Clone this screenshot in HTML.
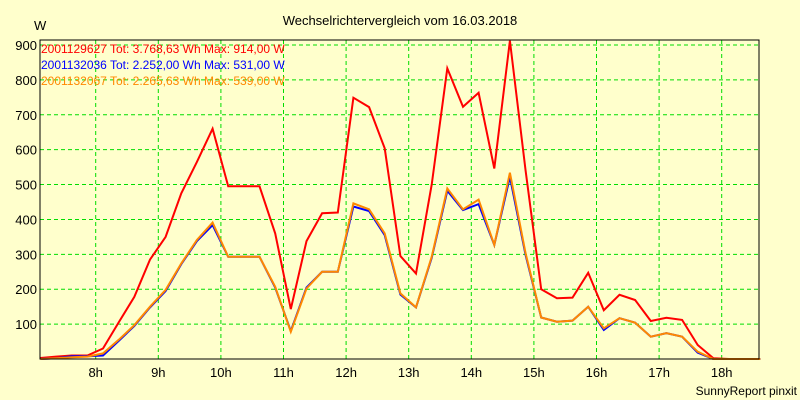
<!DOCTYPE html>
<html><head><meta charset="utf-8"><style>
body{margin:0;background:#ffffcc;}
svg{display:block;font-family:"Liberation Sans",sans-serif;}
</style></head><body>
<svg width="800" height="400">
<rect x="0" y="0" width="800" height="400" fill="#ffffcc"/>
<text x="400" y="25" font-size="13" text-anchor="middle" fill="#000">Wechselrichtervergleich vom 16.03.2018</text>
<text x="34" y="30" font-size="13" fill="#000">W</text>
<text x="797" y="395" font-size="12" text-anchor="end" fill="#000">SunnyReport pinxit</text>
<g id="grid"></g>
<g id="series"></g>
<rect x="40" y="40" width="719" height="319" fill="none" stroke="#000" stroke-width="1"/>
<g id="axes"></g>
<g id="legend" font-size="12">
<text x="41" y="53" fill="#ff0000">2001129627 Tot: 3.768,63 Wh Max: 914,00 W</text>
<text x="41" y="69" fill="#0000ff">2001132036 Tot: 2.252,00 Wh Max: 531,00 W</text>
<text x="41" y="85" fill="#ff8800">2001132067 Tot: 2.265,63 Wh Max: 539,00 W</text>
</g>
</svg>
<script>
const yTicks=[100,200,300,400,500,600,700,800,900];
const xTickHours=[8,9,10,11,12,13,14,15,16,17,18];
const xTickLabels=["8h","9h","10h","11h","12h","13h","14h","15h","16h","17h","18h"];
const startHour=7+7/60;
const stepHours=0.25;
const red=[3,7,10,10,30,105,178,285,350,475,565,660,495,495,495,360,143,338,418,420,749,722,604,295,245,500,833,723,763,546,912,540,200,174,176,247,140,184,169,109,118,112,40,2,0,0,0];
const blue=[0,2,8,8,10,52,95,148,195,272,338,384,293,293,293,205,80,205,250,250,437,424,355,185,148,290,482,427,444,327,522,298,119,107,110,150,83,117,104,64,74,64,18,0,0,0,0];
const orange=[0,2,5,7,16,55,97,150,198,274,341,391,293,293,293,207,78,202,250,250,446,429,360,188,148,293,489,429,457,327,534,303,119,107,110,150,88,117,104,64,74,64,21,0,0,0,0];
const NS="http://www.w3.org/2000/svg";
const X0=40,X1=759,Y0=359,YT=45;
function xs(h){return 95.7+(h-8)*62.6;}
function ys(v){return Y0-(v/900)*(Y0-YT);}
const grid=document.getElementById('grid'),axes=document.getElementById('axes'),ser=document.getElementById('series');
yTicks.forEach(v=>{
 const l=document.createElementNS(NS,'line');
 l.setAttribute('x1',X0);l.setAttribute('x2',X1);l.setAttribute('y1',ys(v));l.setAttribute('y2',ys(v));
 l.setAttribute('stroke','#00dd00');l.setAttribute('stroke-dasharray','4,3');
 
 
 grid.appendChild(l);
 const t=document.createElementNS(NS,'text');
 t.setAttribute('x',37);t.setAttribute('y',ys(v)+5);t.setAttribute('text-anchor','end');t.setAttribute('font-size','13');
 t.textContent=v;
 
 
 axes.appendChild(t);
});
xTickHours.forEach((h,i)=>{
 const l=document.createElementNS(NS,'line');
 l.setAttribute('x1',xs(h));l.setAttribute('x2',xs(h));l.setAttribute('y1',40);l.setAttribute('y2',Y0);
 l.setAttribute('stroke','#00dd00');l.setAttribute('stroke-dasharray','4,3');
 
 
 grid.appendChild(l);
 const t=document.createElementNS(NS,'text');
 t.setAttribute('x',xs(h));t.setAttribute('y',377);t.setAttribute('text-anchor','middle');t.setAttribute('font-size','13');
 t.textContent=xTickLabels[i];
 
 
 axes.appendChild(t);
});
function line(data,color,name){
 const p=document.createElementNS(NS,'polyline');
 p.setAttribute('points',data.map((v,i)=>xs(startHour+i*stepHours).toFixed(1)+','+ys(v).toFixed(1)).join(' '));
 p.setAttribute('fill','none');p.setAttribute('stroke',color);p.setAttribute('stroke-width','2');
 
 
 ser.appendChild(p);
}
line(red,'#ff0000','series-2001129627');
line(blue,'#0000ff','series-2001132036');
line(orange,'#ff8800','series-2001132067');
</script>
</body></html>
